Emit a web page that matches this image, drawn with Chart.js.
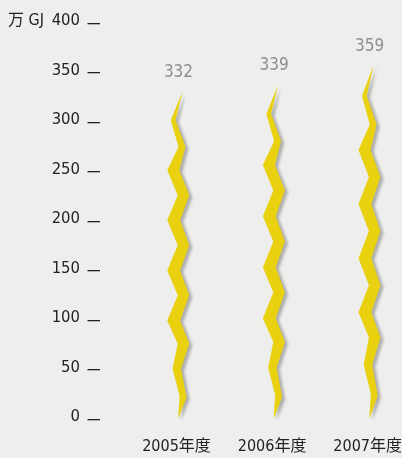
<!DOCTYPE html>
<html>
<head>
<meta charset="utf-8">
<script src="https://cdn.jsdelivr.net/npm/chart.js@4/dist/chart.umd.min.js"></script>
<style>
  html, body { margin: 0; padding: 0; background: #eeefed; }
  #wrap { width: 402px; height: 458px; }
</style>
</head>
<body>
<div id="wrap"><canvas id="chart"></canvas></div>
<script>
const years = ['2005年度', '2006年度', '2007年度'];
const energy = [332, 339, 359];
const unitLabel = '万 GJ';

const font = "'DejaVu Sans Condensed', 'Noto Sans CJK JP', sans-serif";

// lightning outline: x as share of half bar width, y as share from tip to base
const bolt = [
  [0.37, 0], [-0.25, 0.087], [0.65, 0.168], [0.10, 0.240], [1.0, 0.316],
  [0.17, 0.393], [1.0, 0.469], [0.17, 0.546], [1.0, 0.622], [0.17, 0.699],
  [1.0, 0.770], [0.25, 0.847], [0.75, 0.935], [-0.02, 1.0],
  [0.12, 0.929], [-0.52, 0.847], [-0.05, 0.770], [-1.0, 0.699], [-0.05, 0.622],
  [-1.0, 0.546], [-0.05, 0.469], [-1.0, 0.393], [-0.05, 0.316], [-1.0, 0.240],
  [0.02, 0.168], [-0.68, 0.087]
];

const boltPlugin = {
  id: 'bolt',
  afterDatasetsDraw(chart) {
    const ctx = chart.ctx;
    const meta = chart.getDatasetMeta(0);
    meta.data.forEach((bar, i) => {
      const half = bar.width / 2;
      const top = bar.y + 1;
      const h = bar.base - top;
      ctx.save();
      ctx.beginPath();
      bolt.forEach(([fx, fy], k) => {
        const px = bar.x + 1.8 + fx * half;
        const py = top + fy * h;
        if (k) ctx.lineTo(px, py); else ctx.moveTo(px, py);
      });
      ctx.closePath();
      ctx.shadowColor = 'rgba(0,0,0,0.28)';
      ctx.shadowOffsetX = 3;
      ctx.shadowOffsetY = 2;
      ctx.shadowBlur = 3;
      ctx.fillStyle = '#e9d10f';
      ctx.fill();
      ctx.restore();

      ctx.save();
      ctx.fillStyle = '#8e8e8e';
      ctx.font = '17px ' + font;
      ctx.textAlign = 'center';
      ctx.textBaseline = 'middle';
      ctx.fillText(String(energy[i]), bar.x + 2, bar.y - 18);
      ctx.restore();
    });

    const y = chart.scales.y;
    ctx.save();
    ctx.fillStyle = '#222';
    ctx.font = '16px ' + font;
    ctx.textAlign = 'left';
    ctx.textBaseline = 'middle';
    ctx.fillText(unitLabel, 8, y.getPixelForValue(400) - 2.5);
    ctx.restore();
  }
};

new Chart(document.getElementById('chart'), {
  type: 'bar',
  data: {
    datasets: [{
      data: energy.map((v, i) => ({ x: i, y: v })),
      backgroundColor: 'rgba(0,0,0,0)',
      barThickness: 22
    }]
  },
  options: {
    responsive: true,
    maintainAspectRatio: false,
    animation: false,
    layout: { padding: { top: 23.5, bottom: 1.8, left: 0, right: 0 } },
    plugins: { legend: { display: false }, tooltip: { enabled: false } },
    scales: {
      x: {
        type: 'linear',
        min: -0.8,
        max: 2.338,
        offset: false,
        afterBuildTicks: s => { s.ticks = years.map((_, i) => ({ value: i })); },
        ticks: {
          callback: v => years[v],
          padding: 0,
          maxRotation: 0,
          autoSkip: false,
          color: '#222',
          font: { family: font, size: 16 }
        },
        grid: { color: 'rgba(0,0,0,0)', drawOnChartArea: false, tickLength: 17.5 },
        border: { display: false }
      },
      y: {
        min: 0,
        max: 400,
        ticks: {
          stepSize: 50,
          padding: 7.5,
          labelOffset: -2.5,
          color: '#222',
          font: { family: font, size: 16.5 }
        },
        grid: { drawOnChartArea: false, tickLength: 12.5, color: '#222', lineWidth: 1.3 },
        border: { display: false },
        afterFit: s => { s.width = 100; }
      }
    }
  },
  plugins: [boltPlugin]
});
</script>
</body>
</html>
